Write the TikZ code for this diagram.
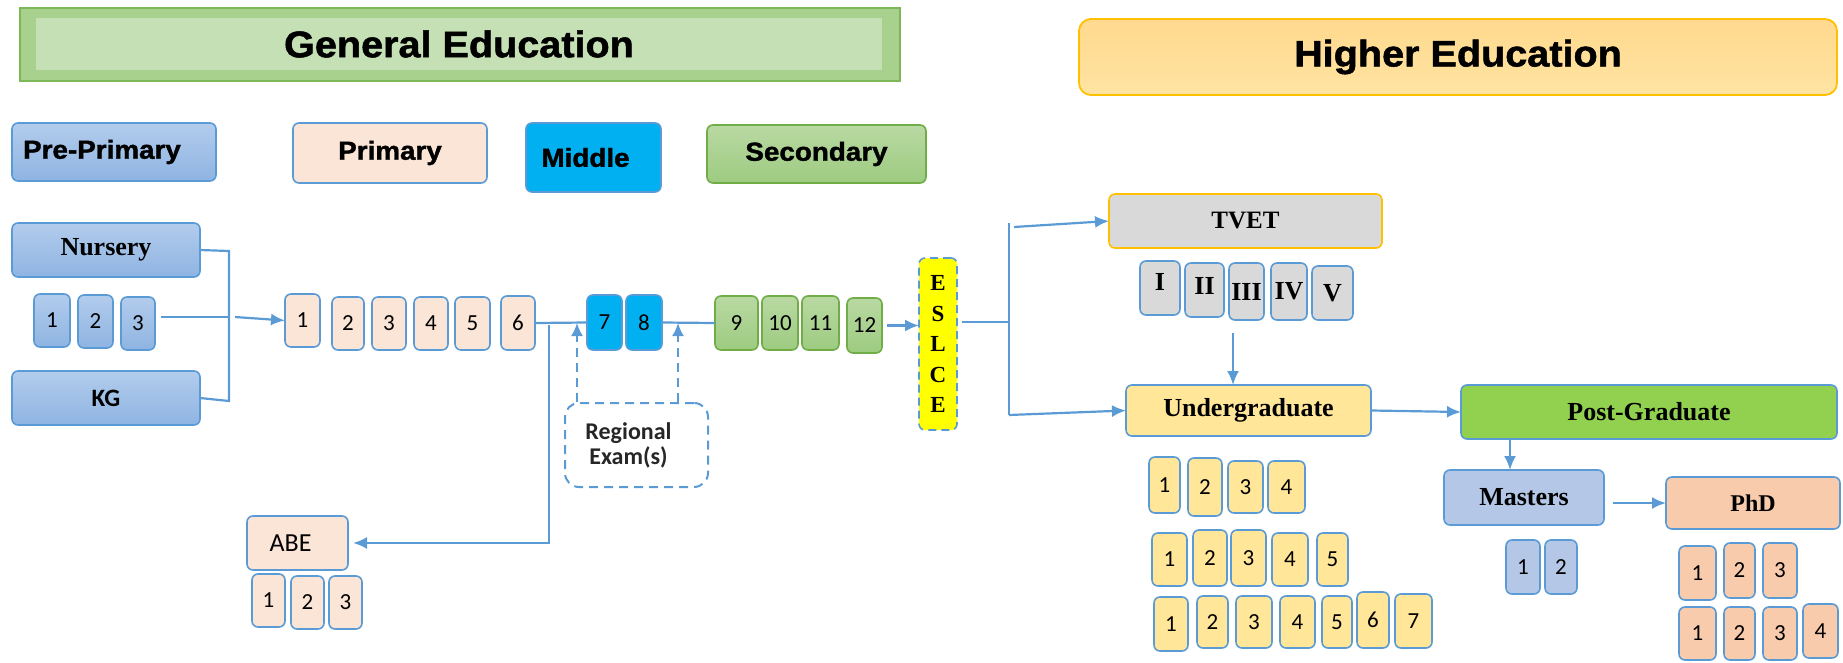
\documentclass[tikz,border=0pt]{standalone}
\usepackage{fontspec}
\setmainfont{Liberation Serif}
\newfontfamily\hfont[FakeStretch=1.07,FakeBold=1.4]{Liberation Sans}
\newfontfamily\carl{Carlito}
\newfontfamily\serf{Liberation Serif}
\usetikzlibrary{arrows.meta}
\definecolor{bl}{HTML}{5B9BD5}
\definecolor{bltop}{HTML}{B2CCEC}
\definecolor{blbot}{HTML}{8FB4E2}
\definecolor{peach}{HTML}{FBE5D6}
\definecolor{cyanm}{HTML}{00B0F0}
\definecolor{grnd}{HTML}{70AD47}
\definecolor{grtop}{HTML}{B9D9A3}
\definecolor{grbot}{HTML}{9DCB80}
\definecolor{gedge}{HTML}{7DB858}
\definecolor{geout}{HTML}{A9D18E}
\definecolor{gein}{HTML}{C5E0B4}
\definecolor{heedge}{HTML}{FFC000}
\definecolor{hetop}{HTML}{FFD98E}
\definecolor{hebot}{HTML}{FFE4A2}
\definecolor{gry}{HTML}{D9D9D9}
\definecolor{ugy}{HTML}{FFE699}
\definecolor{pgg}{HTML}{92D050}
\definecolor{msb}{HTML}{B4C7E7}
\definecolor{phd}{HTML}{F8CBAD}
\definecolor{esy}{HTML}{FFFF00}
\newcommand\bx[7]{\node[#6,minimum width={(#4)-(#2)},minimum height={(#5)-(#3)}] (#1) at ({((#2)+(#4))/2},{((#3)+(#5))/2}) {#7};}
\tikzset{
  bx/.style={draw=bl, line width=1.6pt, rounded corners=6pt, inner sep=0pt, outer sep=0pt, text=black},
  bluebx/.style={bx, top color=bltop, bottom color=blbot},
  pchbx/.style={bx, fill=peach},
  midbx/.style={bx, fill=cyanm},
  grnbx/.style={bx, draw=grnd, top color=grtop, bottom color=grbot},
  ugbx/.style={bx, fill=ugy},
  grybx/.style={bx, fill=gry},
  msbx/.style={bx, fill=msb},
  phbx/.style={bx, fill=phd},
  num/.style={font=\carl\fontsize{23}{23}\selectfont},
  hd/.style={font=\hfont\bfseries\fontsize{26}{26}\selectfont},
  ttl/.style={font=\hfont\bfseries\fontsize{37}{37}\selectfont},
  sf/.style={font=\serf\bfseries\fontsize{26}{26}\selectfont},
  conn/.style={draw=bl, line width=2.2pt},
  arr/.style={conn, -{Latex[length=14pt,width=12pt]}},
  dsh/.style={draw=bl, line width=2pt, dash pattern=on 9pt off 6pt},
  darr/.style={dsh, -{Latex[length=13pt,width=12pt]}}
}
\begin{document}
\begin{tikzpicture}[x=1pt,y=-1pt]
\useasboundingbox (0,0) rectangle (1843,663);
% titles
\bx{ge}{20}{8}{900}{81}{draw=gedge,line width=1.8pt,fill=geout,inner sep=0pt}{}
\bx{gei}{36}{18}{882}{70}{fill=gein,inner sep=0pt,ttl}{General Education}
\bx{he}{1079}{19}{1837}{95}{draw=heedge,line width=1.8pt,rounded corners=12pt,top color=hetop,bottom color=hebot,inner sep=0pt,ttl}{Higher Education}
% level headers
\bx{hpp}{12}{123}{216}{181}{bluebx,hd}{Pre-Primary\hspace*{24pt}}
\bx{hpr}{293}{123}{487}{183}{pchbx,hd}{Primary}
\bx{hmi}{526}{123}{661}{192}{midbx,hd}{Middle\hspace*{16pt}}
\bx{hse}{707}{125}{926}{183}{grnbx,hd}{Secondary}
% pre-primary
\bx{nur}{12}{223}{200}{277}{bluebx,sf}{Nursery}
\bx{kg}{12}{371}{200}{425}{bluebx,font=\carl\bfseries\fontsize{25}{25}\selectfont}{KG}
\bx{pp1}{34}{294}{70}{347}{bluebx,num}{1}
\bx{pp2}{78}{295}{113}{348}{bluebx,num}{2}
\bx{pp3}{121}{297}{155}{350}{bluebx,num}{3}
% primary
\bx{p1}{285}{294}{320}{347}{pchbx,num}{1}
\bx{p2}{332}{297}{364}{350}{pchbx,num}{2}
\bx{p3}{372}{297}{406}{350}{pchbx,num}{3}
\bx{p4}{414}{297}{448}{350}{pchbx,num}{4}
\bx{p5}{455}{297}{490}{350}{pchbx,num}{5}
\bx{p6}{501}{296}{535}{350}{pchbx,num}{6}
% middle
\bx{m7}{587}{295}{622}{350}{midbx,num}{7}
\bx{m8}{626}{295}{662}{350}{midbx,num}{8}
% secondary
\bx{s9}{715}{296}{758}{350}{grnbx,num}{9}
\bx{s10}{762}{296}{798}{350}{grnbx,num}{10}
\bx{s11}{802}{296}{839}{350}{grnbx,num}{11}
\bx{s12}{847}{298}{882}{353}{grnbx,num}{12}
% ESLCE
\bx{es}{919}{258}{957}{430}{bx,fill=esy,dash pattern=on 8pt off 5pt,align=center,font=\serf\bfseries\fontsize{23}{30.5}\selectfont}{E\\S\\L\\C\\E}
% regional exams
\bx{reg}{565}{403}{708}{487}{draw=bl,line width=2pt,dash pattern=on 9pt off 6pt,rounded corners=14pt,inner sep=0pt,align=center,text=black!85,font=\carl\bfseries\fontsize{24}{25}\selectfont}{Regional\hspace*{16pt}\\Exam(s)\hspace*{16pt}}
% ABE
\bx{abe}{247}{516}{348}{570}{pchbx,font=\carl\fontsize{26}{26}\selectfont}{ABE\hspace*{14pt}}
\bx{a1}{252}{574}{285}{627}{pchbx,num}{1}
\bx{a2}{291}{576}{324}{629}{pchbx,num}{2}
\bx{a3}{329}{576}{362}{629}{pchbx,num}{3}
% TVET
\bx{tv}{1109}{194}{1382}{248}{bx,draw=heedge,fill=gry,sf,font=\serf\bfseries\fontsize{25}{25}\selectfont}{TVET}
\bx{r1}{1140}{261}{1180}{315}{grybx,sf}{I\rule[-12pt]{0pt}{1pt}}
\bx{r2}{1185}{263}{1224}{317}{grybx,sf}{II\rule[-8pt]{0pt}{1pt}}
\bx{r3}{1229}{263}{1264}{320}{grybx,sf}{III}
\bx{r4}{1271}{263}{1307}{320}{grybx,sf}{IV}
\bx{r5}{1312}{266}{1353}{320}{grybx,sf}{V}
% undergraduate
\bx{ug}{1126}{385}{1371}{436}{ugbx,sf}{Undergraduate}
\bx{ua1}{1149}{457}{1180}{513}{ugbx,num}{1}
\bx{ua2}{1188}{458}{1222}{516}{ugbx,num}{2}
\bx{ua3}{1228}{461}{1263}{513}{ugbx,num}{3}
\bx{ua4}{1268}{461}{1305}{513}{ugbx,num}{4}
\bx{ub1}{1152}{533}{1187}{586}{ugbx,num}{1}
\bx{ub2}{1193}{530}{1227}{586}{ugbx,num}{2}
\bx{ub3}{1231}{530}{1266}{586}{ugbx,num}{3}
\bx{ub4}{1272}{533}{1308}{586}{ugbx,num}{4}
\bx{ub5}{1317}{533}{1348}{586}{ugbx,num}{5}
\bx{uc1}{1154}{597}{1188}{651}{ugbx,num}{1}
\bx{uc2}{1197}{596}{1228}{648}{ugbx,num}{2}
\bx{uc3}{1236}{596}{1272}{648}{ugbx,num}{3}
\bx{uc4}{1280}{596}{1315}{648}{ugbx,num}{4}
\bx{uc5}{1322}{596}{1352}{648}{ugbx,num}{5}
\bx{uc6}{1357}{592}{1389}{648}{ugbx,num}{6}
\bx{uc7}{1395}{594}{1432}{648}{ugbx,num}{7}
% post-graduate
\bx{pg}{1461}{385}{1837}{439}{bx,fill=pgg,sf}{Post-Graduate}
\bx{ms}{1444}{470}{1604}{525}{msbx,sf}{Masters}
\bx{ph}{1666}{477}{1840}{529}{phbx,sf,font=\serf\bfseries\fontsize{24}{24}\selectfont}{PhD}
\bx{mn1}{1506}{540}{1540}{594}{msbx,num}{1}
\bx{mn2}{1545}{540}{1577}{594}{msbx,num}{2}
\bx{pa1}{1679}{546}{1716}{600}{phbx,num}{1}
\bx{pa2}{1724}{543}{1755}{598}{phbx,num}{2}
\bx{pa3}{1763}{543}{1797}{598}{phbx,num}{3}
\bx{pb1}{1679}{607}{1716}{660}{phbx,num}{1}
\bx{pb2}{1724}{607}{1755}{660}{phbx,num}{2}
\bx{pb3}{1763}{607}{1797}{660}{phbx,num}{3}
\bx{pb4}{1803}{604}{1838}{658}{phbx,num}{4}
% connectors: pre-primary bracket
\coordinate (jt) at (229,251);
\coordinate (jm) at (229,317);
\coordinate (jb) at (229,401);
\draw[conn] (nur.east) -- (jt) -- (jb) -- (kg.east);
\draw[conn] ([xshift=6pt]pp3.east |- jm) -- (jm);
\draw[arr] ([xshift=6pt]jm) -- (p1.west);
% primary to middle, ABE branch
\draw[conn] (p6.east) -- (m7.west);
\coordinate (v1) at (549,325);
\coordinate (v2) at (549,543);
\draw[arr,shorten >=5pt] (v1) -- (v2) -- (abe.east);
% middle to secondary, to ESLCE
\draw[conn] (m8.east) -- (s9.west);
\draw[arr,shorten <=5pt] (s12.east) -- (es.west |- s12.east);
% regional exams
\coordinate (ra) at (577,323);
\coordinate (rb) at (678,323);
\draw[darr] (ra |- reg.north) -- (ra);
\draw[darr] (rb |- reg.north) -- (rb);
% ESLCE to higher education
\coordinate (ej) at (1009,322);
\coordinate (ejt) at (1009,223);
\coordinate (ejb) at (1009,415);
\draw[conn] ([xshift=5pt]es.east |- ej) -- (ej);
\draw[conn] (ejt) -- (ejb);
\coordinate (ta) at (1014,227);
\draw[arr] (ta) -- (tv.west);
\draw[arr] (ejb) -- (ug.west);
\coordinate (rv) at (1233,333);
\draw[arr] (rv) -- (rv |- ug.north);
\draw[arr] (ug.east) -- (pg.west);
\draw[arr] ([xshift=-14pt]ms.north |- pg.south) -- ([xshift=-14pt]ms.north);
\draw[arr] ([xshift=9pt]ms.east |- ph.west) -- (ph.west);
\end{tikzpicture}
\end{document}
